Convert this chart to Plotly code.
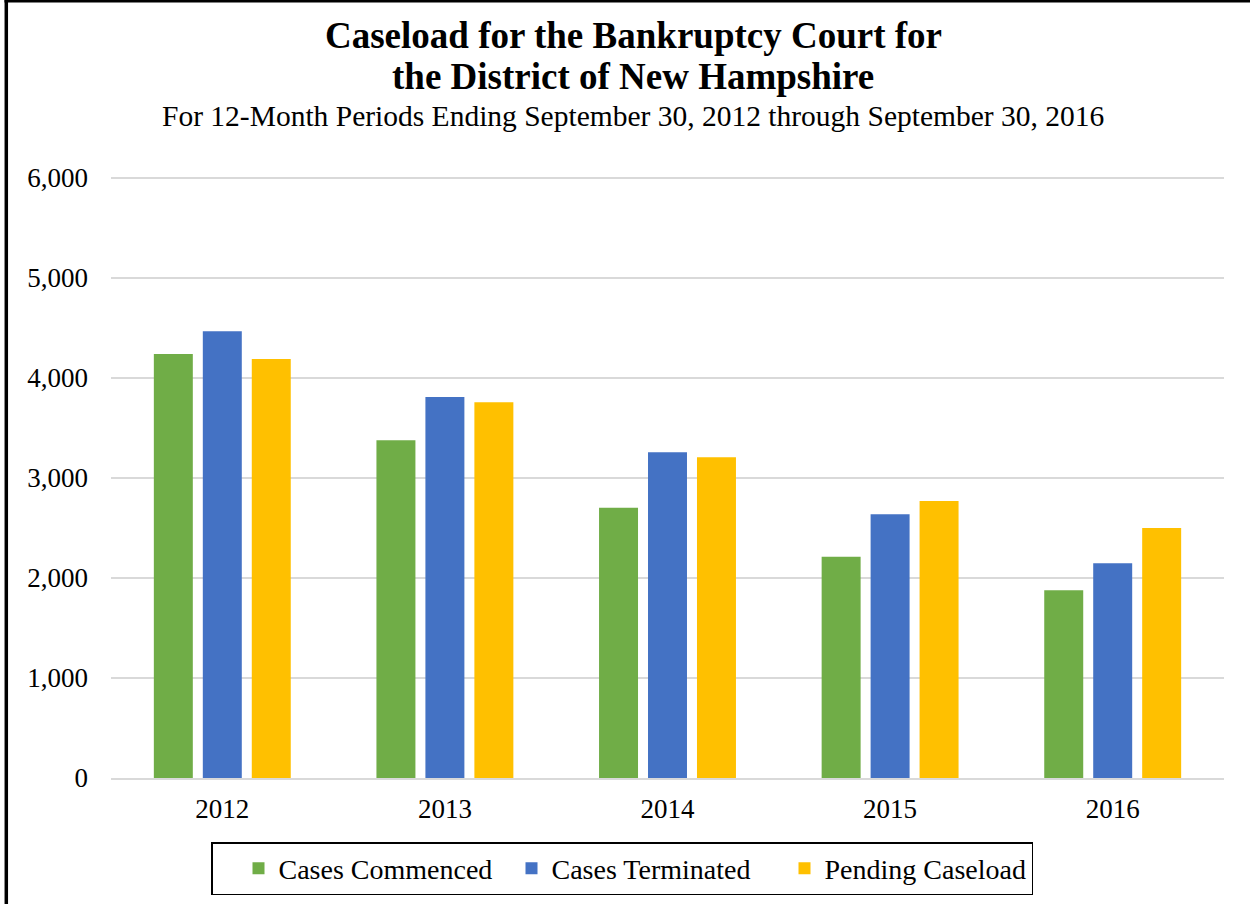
import plotly.graph_objects as go

years = ["2012", "2013", "2014", "2015", "2016"]
cases_commenced = [4240, 3377, 2703, 2213, 1877]
cases_terminated = [4467, 3810, 3257, 2637, 2147]
pending_caseload = [4190, 3757, 3207, 2770, 2500]

series_names = ["Cases Commenced", "Cases Terminated", "Pending Caseload"]
series_colors = ["#70AD47", "#4472C4", "#FFC000"]

title_line1 = "Caseload for the Bankruptcy Court for"
title_line2 = "the District of New Hampshire"
subtitle = "For 12-Month Periods Ending September 30, 2012 through September 30, 2016"

FONT = "Liberation Serif, Times New Roman, serif"

W, H = 1250, 904
L, R, T, B = 111, 26, 172, 126
pw, ph = W - L - R, H - T - B

def px_x(px):
    return (px - L) / pw

def px_y(py):
    return (H - B - py) / ph

fig = go.Figure()
for name, vals, col in zip(series_names, [cases_commenced, cases_terminated, pending_caseload], series_colors):
    fig.add_trace(go.Bar(x=years, y=vals, name=name, marker=dict(color=col, line=dict(width=0))))

fig.update_layout(
    width=W, height=H,
    margin=dict(l=L, r=R, t=T, b=B, autoexpand=False),
    paper_bgcolor="white", plot_bgcolor="white",
    barmode="group", bargap=0.34, bargroupgap=0.204,
    font=dict(family=FONT, size=27, color="black"),
    showlegend=True,
    legend=dict(
        orientation="h", x=px_x(622), xanchor="center", y=px_y(842), yanchor="top",
        bordercolor="black", borderwidth=1.5, bgcolor="white",
        font=dict(family=FONT, size=28, color="black"),
        itemsizing="constant", traceorder="normal", entrywidth=202, indentation=26,
    ),
    xaxis=dict(
        showgrid=False, showline=True, linecolor="#D9D9D9", linewidth=1.5,
        ticks="", tickfont=dict(family=FONT, size=27, color="black"),
        ticklabelstandoff=6,
    ),
    yaxis=dict(
        range=[0, 6060], tickvals=[0, 1000, 2000, 3000, 4000, 5000, 6000], tickformat=",", showgrid=True,
        gridcolor="#D9D9D9", gridwidth=1.5, zeroline=False, showline=False,
        ticks="", tickfont=dict(family=FONT, size=27, color="black"),
        ticklabelstandoff=22,
    ),
)

cx = px_x(633)
fig.add_annotation(text="<b>" + title_line1 + "</b>", x=cx, y=px_y(35), xref="paper", yref="paper",
                   xanchor="center", yanchor="middle", showarrow=False,
                   font=dict(family=FONT, size=37, color="black"))
fig.add_annotation(text="<b>" + title_line2 + "</b>", x=cx, y=px_y(77), xref="paper", yref="paper",
                   xanchor="center", yanchor="middle", showarrow=False,
                   font=dict(family=FONT, size=37, color="black"))
fig.add_annotation(text=subtitle, x=cx, y=px_y(116), xref="paper", yref="paper",
                   xanchor="center", yanchor="middle", showarrow=False,
                   font=dict(family=FONT, size=29.5, color="black"))

# outer chart border (left and top visible)
fig.add_shape(type="line", xref="paper", yref="paper", x0=px_x(6.3), x1=px_x(6.3), y0=px_y(0), y1=px_y(H),
              line=dict(color="black", width=3.5))
fig.add_shape(type="line", xref="paper", yref="paper", x0=px_x(4.5), x1=px_x(W), y0=px_y(1.2), y1=px_y(1.2),
              line=dict(color="black", width=2.5))

fig.write_html("out.html", config={"displayModeBar": False},
               post_script="document.body.style.margin='0';document.body.style.padding='0';")
